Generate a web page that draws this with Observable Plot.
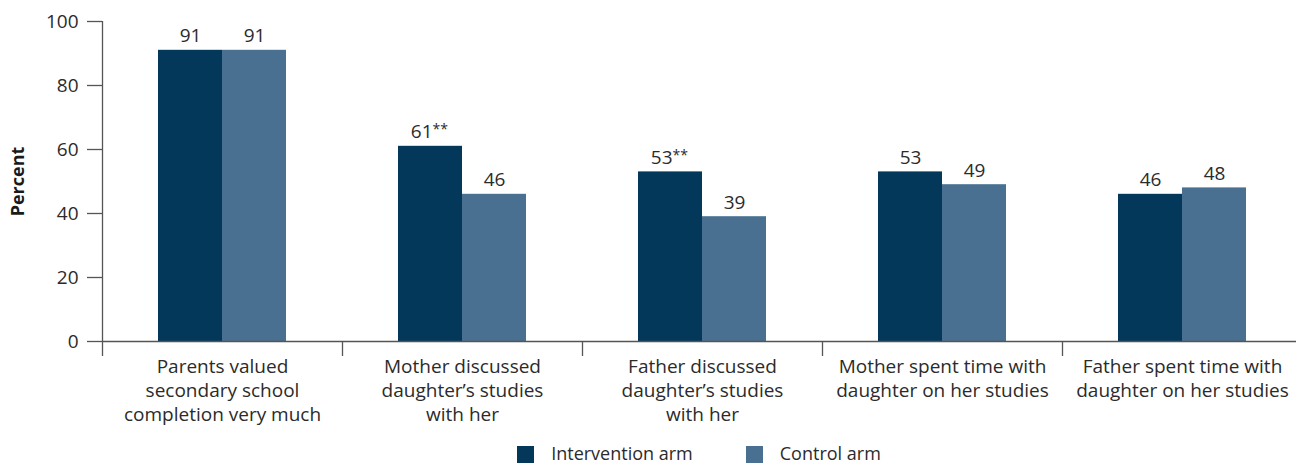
<!DOCTYPE html>
<html>
<head>
<meta charset="utf-8">
<script src="https://cdn.jsdelivr.net/npm/d3@7"></script>
<script src="https://cdn.jsdelivr.net/npm/@observablehq/plot@0.6"></script>
<style>
  html, body { margin: 0; padding: 0; background: #fff; overflow: hidden; }
  body { font-family: "Open Sans", sans-serif; color: #2b2b2b; }
  #chart svg { display: block; }
  #legend { display: flex; justify-content: center; align-items: flex-start; margin-left: 102px; width: 1194px; height: 30px; box-sizing: border-box; gap: 53px; font-size: 18px; }
  .item { display: flex; align-items: flex-start; gap: 17px; }
  .sw { width: 17px; height: 17px; display: block; margin-top: 10px; }
  .lt { display: block; line-height: 24px; margin-top: 5px; }
</style>
</head>
<body>
<div id="chart"></div>
<div id="legend"></div>
<script>
const categories = [
  "Parents valued\nsecondary school\ncompletion very much",
  "Mother discussed\ndaughter’s studies\nwith her",
  "Father discussed\ndaughter’s studies\nwith her",
  "Mother spent time with\ndaughter on her studies",
  "Father spent time with\ndaughter on her studies"
];
const arms = ["Intervention arm", "Control arm"];
const intervention = [91, 61, 53, 53, 46];
const control = [91, 46, 39, 49, 48];
const significance = ["", "**", "**", "", ""];
const yTicks = [0, 20, 40, 60, 80, 100];
const colors = ["#03385b", "#4a7091"];

const interRows = categories.map((c, i) => ({category: c, arm: arms[0], value: intervention[i], sig: significance[i]}));
const ctrlRows = categories.map((c, i) => ({category: c, arm: arms[1], value: control[i], sig: ""}));

const plot = Plot.plot({
  width: 1296,
  height: 436,
  marginLeft: 102,
  marginRight: 0,
  marginTop: 21,
  marginBottom: 95,
  style: {fontFamily: "Open Sans, sans-serif", fontSize: "19px", color: "#2b2b2b", background: "#fff"},
  x: {domain: categories, range: [102, 1302], padding: 0, label: null},
  y: {domain: [0, 100], label: null},
  marks: [
    Plot.barY(interRows, {x: "category", y: "value", fill: colors[0], insetLeft: 56, insetRight: 120}),
    Plot.barY(ctrlRows, {x: "category", y: "value", fill: colors[1], insetLeft: 120, insetRight: 56}),
    Plot.ruleY([0], {stroke: "#555", strokeWidth: 1.3}),
    Plot.ruleX([categories[0]], {y1: 0, y2: 100, dx: -120, stroke: "#555", strokeWidth: 1.3}),
    Plot.axisY({ticks: yTicks, tickSize: 15, tickPadding: 9, fontSize: 19, label: null, stroke: "#555", strokeWidth: 1.3}),
    Plot.axisX({tickSize: 15, dx: -120, tickFormat: () => "", label: null, stroke: "#555", strokeWidth: 1.3}),
    Plot.axisX({tickSize: 0, tickPadding: 15, fontSize: 19, lineHeight: 1.25, label: null}),
    Plot.text(interRows.filter(d => !d.sig), {x: "category", y: "value", text: d => String(d.value), dx: -32, dy: -8, lineAnchor: "bottom", fontSize: 19, fill: "#2b2b2b"}),
    Plot.text(interRows.filter(d => d.sig), {x: "category", y: "value", text: d => String(d.value), dx: -30, dy: -8, lineAnchor: "bottom", textAnchor: "end", fontSize: 19, fill: "#2b2b2b"}),
    Plot.text(interRows.filter(d => d.sig), {x: "category", y: "value", text: "sig", dx: -30, dy: -12, lineAnchor: "bottom", textAnchor: "start", fontSize: 14, fill: "#2b2b2b"}),
    Plot.text(ctrlRows, {x: "category", y: "value", text: d => String(d.value), dx: 32, dy: -8, lineAnchor: "bottom", fontSize: 19, fill: "#2b2b2b"}),
    Plot.text(["Percent"], {frameAnchor: "left", textAnchor: "middle", dx: -84, rotate: -90, fontWeight: "bold", fontSize: 18, fill: "#1a1a1a"})
  ]
});
document.getElementById("chart").appendChild(plot);

const legend = document.getElementById("legend");
arms.forEach((a, i) => {
  const item = document.createElement("div");
  item.className = "item";
  const sw = document.createElement("span");
  sw.className = "sw";
  sw.style.background = colors[i];
  const t = document.createElement("span");
  t.className = "lt";
  t.textContent = a;
  item.appendChild(sw);
  item.appendChild(t);
  legend.appendChild(item);
});
</script>
</body>
</html>
